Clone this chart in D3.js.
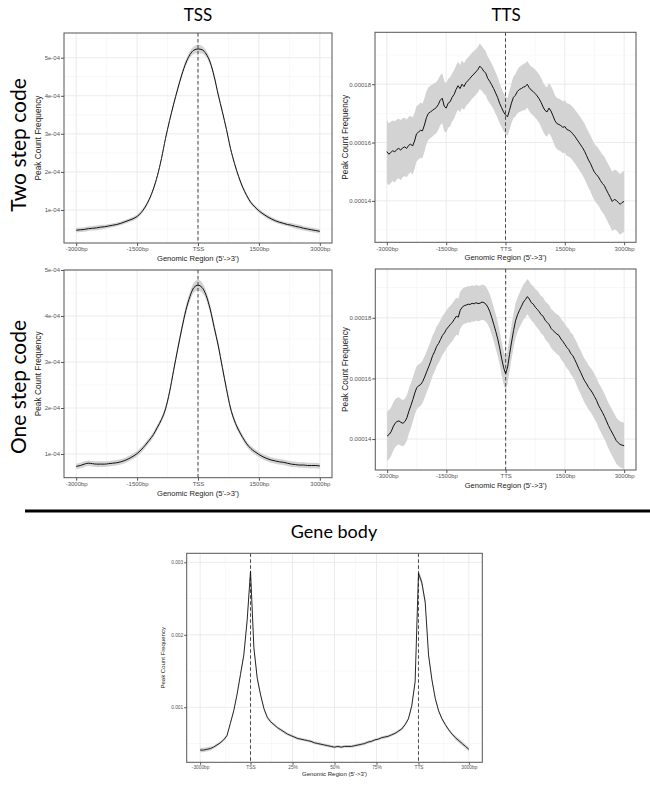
<!DOCTYPE html>
<html><head><meta charset="utf-8">
<script src="https://cdn.jsdelivr.net/npm/d3@7"></script>
<style>body{margin:0;background:#fff}svg{display:block}</style>
</head><body>
<svg id="chart" width="650" height="798"></svg>
<script>
// ---------------- DATA ----------------
const flankTicks = [-3000, -1500, 0, 1500, 3000];
const tssTickLabels = ["-3000bp", "-1500bp", "TSS", "1500bp", "3000bp"];
const ttsTickLabels = ["-3000bp", "-1500bp", "TTS", "1500bp", "3000bp"];
const tssYTicks = [1e-4, 2e-4, 3e-4, 4e-4, 5e-4];
const tssYTickLabels = ["1e-04", "2e-04", "3e-04", "4e-04", "5e-04"];
const ttsYTicks = [0.00014, 0.00016, 0.00018];
const ttsYTickLabels = ["0.00014", "0.00016", "0.00018"];
const bodyTicks = [-30, 0, 25, 50, 75, 100, 130];
const bodyTickLabels = ["-3000bp", "TSS", "25%", "50%", "75%", "TTS", "3000bp"];
const bodyYTicks = [0.001, 0.002, 0.003];
const bodyYTickLabels = ["0.001", "0.002", "0.003"];

const tssPos = d3.range(-3000, 3001, 100);   // sampling grid (bp)
const ttsPos = d3.range(-3000, 3001, 50);    // sampling grid (bp)
const bodyPos = d3.range(-30, 131, 2);       // gene-body grid (% of body, flanks scaled)

// TSS, two step code (x 1e-4)
const tssTwoStep = [
 0.47,0.48,0.49,0.51,0.52,0.53,0.55,0.56,0.58,0.60,
 0.62,0.65,0.69,0.73,0.77,0.83,0.93,1.08,1.28,1.55,
 1.90,2.35,2.88,3.35,3.78,4.18,4.55,4.86,5.08,5.20,
 5.23,5.21,5.10,4.88,4.50,4.02,3.58,3.12,2.62,2.22,
 1.88,1.60,1.38,1.20,1.08,0.98,0.90,0.83,0.77,0.72,
 0.68,0.65,0.62,0.60,0.57,0.55,0.52,0.50,0.48,0.46,
 0.44];
const tssTwoStepSE = [
 0.06,0.06,0.06,0.06,0.06,0.06,0.06,0.05,0.05,0.05,
 0.05,0.05,0.05,0.05,0.05,0.05,0.05,0.05,0.05,0.05,
 0.05,0.05,0.05,0.05,0.06,0.06,0.07,0.08,0.09,0.10,
 0.11,0.10,0.09,0.08,0.07,0.06,0.06,0.05,0.05,0.05,
 0.05,0.05,0.05,0.05,0.05,0.05,0.05,0.05,0.05,0.05,
 0.05,0.05,0.05,0.06,0.06,0.06,0.06,0.06,0.06,0.06,
 0.06];
// TSS, one step code (x 1e-4)
const tssOneStep = [
 0.73,0.75,0.78,0.80,0.79,0.78,0.78,0.78,0.79,0.80,
 0.81,0.83,0.86,0.90,0.95,1.01,1.09,1.19,1.30,1.42,
 1.58,1.75,1.98,2.35,2.82,3.28,3.72,4.12,4.42,4.62,
 4.67,4.62,4.45,4.15,3.75,3.35,2.88,2.42,2.00,1.72,
 1.52,1.36,1.22,1.12,1.05,0.99,0.94,0.90,0.87,0.85,
 0.83,0.82,0.80,0.78,0.77,0.76,0.76,0.75,0.75,0.75,
 0.74];
const tssOneStepSE = [
 0.06,0.06,0.06,0.06,0.06,0.06,0.06,0.06,0.06,0.06,
 0.06,0.06,0.06,0.06,0.06,0.06,0.06,0.06,0.06,0.06,
 0.06,0.06,0.06,0.06,0.07,0.07,0.08,0.09,0.10,0.11,
 0.12,0.11,0.10,0.09,0.08,0.07,0.07,0.06,0.06,0.06,
 0.06,0.06,0.06,0.06,0.06,0.06,0.06,0.06,0.06,0.06,
 0.06,0.06,0.06,0.06,0.06,0.06,0.06,0.06,0.06,0.06,
 0.06];
// TTS, two step code (x 1e-5)
const ttsTwoStep = [
 15.69,15.60,15.66,15.72,15.68,15.76,15.80,15.74,15.82,15.85,
 15.80,15.90,15.95,15.88,16.05,16.30,16.36,16.42,16.40,16.60,
 16.85,17.00,17.05,17.10,17.15,17.20,17.30,17.45,17.52,17.25,
 17.18,17.35,17.40,17.55,17.65,17.82,17.95,17.85,18.00,17.92,
 18.05,18.12,18.20,18.28,18.35,18.42,18.50,18.62,18.55,18.45,
 18.38,18.20,18.10,17.98,17.85,17.70,17.55,17.35,17.20,17.05,
 16.95,16.88,17.10,17.35,17.55,17.62,17.75,17.82,17.85,17.90,
 17.92,18.00,17.88,17.80,17.75,17.68,17.60,17.50,17.38,17.22,
 17.10,17.05,17.18,17.08,16.92,16.75,16.65,16.62,16.58,16.52,
 16.55,16.45,16.42,16.38,16.30,16.22,16.12,16.02,15.92,15.82,
 15.70,15.55,15.40,15.28,15.12,14.98,14.90,14.82,14.70,14.60,
 14.52,14.38,14.25,14.12,13.98,14.05,14.02,13.95,13.88,13.95,
 13.98];
const ttsTwoStepSE = [
 1.08,1.06,1.05,1.04,1.05,1.03,1.02,1.03,1.01,1.00,
 0.99,0.98,0.97,0.98,0.96,0.95,0.94,0.95,0.93,0.92,
 0.91,0.90,0.90,0.89,0.88,0.88,0.87,0.86,0.86,0.85,
 0.85,0.84,0.84,0.83,0.83,0.82,0.82,0.81,0.81,0.80,
 0.80,0.80,0.79,0.79,0.79,0.78,0.78,0.78,0.77,0.77,
 0.76,0.75,0.74,0.73,0.72,0.71,0.70,0.68,0.66,0.65,
 0.64,0.65,0.67,0.69,0.71,0.73,0.75,0.77,0.78,0.79,
 0.80,0.80,0.81,0.81,0.82,0.82,0.83,0.83,0.84,0.84,
 0.85,0.85,0.86,0.86,0.87,0.87,0.88,0.88,0.89,0.89,
 0.90,0.90,0.91,0.91,0.92,0.92,0.93,0.93,0.94,0.94,
 0.95,0.95,0.96,0.96,0.97,0.97,0.98,0.98,0.99,0.99,
 1.00,1.00,1.01,1.01,1.02,1.02,1.03,1.03,1.04,1.04,
 1.05];
// TTS, one step code (x 1e-5)
const ttsOneStep = [
 14.10,14.15,14.24,14.40,14.52,14.58,14.60,14.55,14.52,14.58,
 14.70,14.92,15.10,15.30,15.52,15.70,15.76,15.80,15.90,16.05,
 16.22,16.38,16.55,16.75,16.88,17.05,17.15,17.28,17.42,17.50,
 17.62,17.70,17.78,17.85,17.95,18.05,18.02,18.25,18.35,18.40,
 18.42,18.45,18.44,18.48,18.46,18.50,18.47,18.48,18.52,18.50,
 18.45,18.35,18.20,18.00,17.78,17.55,17.30,17.00,16.65,16.35,
 16.15,16.38,16.80,17.20,17.58,17.90,18.10,18.25,18.38,18.52,
 18.60,18.70,18.62,18.50,18.45,18.35,18.28,18.20,18.10,18.05,
 17.92,17.85,17.78,17.65,17.58,17.52,17.46,17.42,17.30,17.22,
 17.12,17.02,16.95,16.82,16.75,16.62,16.48,16.33,16.20,16.05,
 15.92,15.82,15.70,15.62,15.52,15.40,15.28,15.12,15.00,14.88,
 14.75,14.60,14.45,14.32,14.20,14.08,13.95,13.88,13.82,13.80,
 13.78];
const ttsOneStepSE = [
 0.82,0.81,0.80,0.80,0.79,0.78,0.78,0.77,0.76,0.76,
 0.75,0.74,0.74,0.73,0.72,0.72,0.71,0.70,0.70,0.69,
 0.68,0.68,0.67,0.67,0.66,0.66,0.65,0.65,0.64,0.64,
 0.63,0.63,0.62,0.62,0.62,0.61,0.61,0.61,0.60,0.60,
 0.60,0.60,0.60,0.59,0.59,0.59,0.59,0.58,0.58,0.58,
 0.58,0.57,0.57,0.57,0.56,0.56,0.56,0.55,0.55,0.55,
 0.55,0.55,0.56,0.56,0.56,0.57,0.57,0.57,0.58,0.58,
 0.58,0.58,0.59,0.59,0.60,0.60,0.61,0.61,0.62,0.62,
 0.63,0.63,0.64,0.64,0.65,0.65,0.66,0.66,0.67,0.67,
 0.68,0.68,0.69,0.69,0.70,0.70,0.71,0.71,0.72,0.72,
 0.72,0.73,0.73,0.73,0.74,0.74,0.74,0.74,0.75,0.75,
 0.75,0.75,0.75,0.76,0.76,0.76,0.76,0.76,0.76,0.76,
 0.76];
// Gene body (x 1e-3)
const bodyVal = [
 0.41,0.41,0.42,0.43,0.45,0.48,0.51,0.55,0.61,0.78,
 0.95,1.18,1.45,1.72,2.20,2.88,1.82,1.40,1.17,0.98,
 0.86,0.80,0.76,0.72,0.69,0.66,0.63,0.61,0.59,0.57,
 0.56,0.55,0.54,0.53,0.51,0.50,0.49,0.48,0.47,0.46,
 0.45,0.46,0.45,0.46,0.46,0.46,0.47,0.48,0.49,0.50,
 0.52,0.53,0.55,0.56,0.58,0.59,0.60,0.62,0.64,0.67,
 0.70,0.76,0.84,1.02,1.35,2.85,2.72,2.45,1.72,1.38,
 1.12,0.95,0.84,0.76,0.69,0.63,0.58,0.54,0.50,0.46,
 0.42];
const bodySE = [
 0.03,0.03,0.03,0.03,0.02,0.02,0.02,0.02,0.02,0.02,
 0.02,0.02,0.03,0.03,0.04,0.05,0.04,0.03,0.02,0.02,
 0.02,0.02,0.02,0.02,0.02,0.02,0.02,0.02,0.02,0.02,
 0.02,0.02,0.02,0.02,0.02,0.02,0.02,0.02,0.02,0.02,
 0.02,0.02,0.02,0.02,0.02,0.02,0.02,0.02,0.02,0.02,
 0.02,0.02,0.02,0.02,0.02,0.02,0.02,0.02,0.02,0.02,
 0.02,0.02,0.02,0.02,0.03,0.05,0.05,0.04,0.03,0.03,
 0.02,0.02,0.02,0.02,0.02,0.02,0.03,0.03,0.03,0.03,
 0.03];

// ---------------- DRAWING ----------------
const svg = d3.select("#chart");
const FONT = "'Liberation Sans', Arial, sans-serif";
const TFONT = "Lato, 'Open Sans', sans-serif";

function panel(cfg) {
  const g = svg.append("g");
  const x = d3.scaleLinear().domain(cfg.xDomain).range([cfg.left, cfg.right]);
  const y = d3.scaleLinear().domain(cfg.yDomain).range([cfg.bottom, cfg.top]);
  const rows = cfg.pos.map((p, i) => ({x: p, v: cfg.vals[i] * cfg.mult, s: cfg.se[i] * cfg.mult}));

  g.append("rect").attr("x", cfg.left).attr("y", cfg.top)
    .attr("width", cfg.right - cfg.left).attr("height", cfg.bottom - cfg.top).attr("fill", "#fff");

  // minor grid: midpoints between majors (and beyond, if in range)
  const minor = (ticks, dom) => {
    const out = [];
    const step0 = ticks[1] - ticks[0], stepN = ticks[ticks.length-1] - ticks[ticks.length-2];
    const cand = [ticks[0] - step0 / 2];
    for (let i = 0; i < ticks.length - 1; i++) cand.push((ticks[i] + ticks[i+1]) / 2);
    cand.push(ticks[ticks.length-1] + stepN / 2);
    const lo = Math.min(...dom), hi = Math.max(...dom);
    cand.forEach(c => { if (c > lo && c < hi) out.push(c); });
    return out;
  };
  const grid = g.append("g");
  grid.selectAll(".mx").data(minor(cfg.xTicks, cfg.xDomain)).join("line")
    .attr("x1", d => x(d)).attr("x2", d => x(d)).attr("y1", cfg.top).attr("y2", cfg.bottom)
    .attr("stroke", "#f0f0f0").attr("stroke-width", 0.5);
  grid.selectAll(".my").data(minor(cfg.yTicks, cfg.yDomain)).join("line")
    .attr("y1", d => y(d)).attr("y2", d => y(d)).attr("x1", cfg.left).attr("x2", cfg.right)
    .attr("stroke", "#f0f0f0").attr("stroke-width", 0.5);
  grid.selectAll(".Mx").data(cfg.xTicks).join("line")
    .attr("x1", d => x(d)).attr("x2", d => x(d)).attr("y1", cfg.top).attr("y2", cfg.bottom)
    .attr("stroke", "#ebebeb").attr("stroke-width", 1);
  grid.selectAll(".My").data(cfg.yTicks).join("line")
    .attr("y1", d => y(d)).attr("y2", d => y(d)).attr("x1", cfg.left).attr("x2", cfg.right)
    .attr("stroke", "#ebebeb").attr("stroke-width", 1);

  const curve = cfg.smooth ? d3.curveMonotoneX : d3.curveLinear;
  g.append("path").datum(rows)
    .attr("d", d3.area().x(d => x(d.x)).y0(d => y(d.v - d.s)).y1(d => y(d.v + d.s)).curve(curve))
    .attr("fill", "#d3d3d3");

  cfg.vlines.forEach(v => {
    g.append("line").attr("x1", x(v)).attr("x2", x(v)).attr("y1", cfg.top).attr("y2", cfg.bottom)
      .attr("stroke", "#333").attr("stroke-width", 0.9).attr("stroke-dasharray", "3.5,2.5");
  });

  g.append("path").datum(rows)
    .attr("d", d3.line().x(d => x(d.x)).y(d => y(d.v)).curve(curve))
    .attr("fill", "none").attr("stroke", "#111").attr("stroke-width", cfg.lw);

  g.append("rect").attr("x", cfg.left).attr("y", cfg.top)
    .attr("width", cfg.right - cfg.left).attr("height", cfg.bottom - cfg.top)
    .attr("fill", "none").attr("stroke", "#555").attr("stroke-width", 1);

  const ax = g.append("g").attr("transform", `translate(0,${cfg.bottom})`)
    .call(d3.axisBottom(x).tickValues(cfg.xTicks).tickFormat((d, i) => cfg.xLabels[i])
      .tickSize(cfg.tick).tickPadding(1));
  const ay = g.append("g").attr("transform", `translate(${cfg.left},0)`)
    .call(d3.axisLeft(y).tickValues(cfg.yTicks).tickFormat((d, i) => cfg.yLabels[i])
      .tickSize(cfg.tick).tickPadding(1));
  [ax, ay].forEach(a => {
    a.select(".domain").remove();
    a.selectAll("line").attr("stroke", "#555");
    a.selectAll("text").attr("fill", "#555").style("font-family", FONT).style("font-size", cfg.tickFont + "px");
  });

  g.append("text").attr("x", (cfg.left + cfg.right) / 2).attr("y", cfg.bottom + cfg.xTitleOff)
    .attr("text-anchor", "middle").style("font-family", FONT).style("font-size", cfg.xTitleFont + "px")
    .attr("fill", "#222").text("Genomic Region (5'->3')");
  g.append("text")
    .attr("transform", `translate(${cfg.yTitleX},${(cfg.top + cfg.bottom) / 2}) rotate(-90)`)
    .attr("text-anchor", "middle").style("font-family", FONT).style("font-size", cfg.yTitleFont + "px")
    .attr("fill", "#222").text("Peak Count Frequency");
}

const common = {smooth: false, lw: 1, tick: 3, tickFont: 6, xTitleFont: 7.6, yTitleFont: 8.3, xTitleOff: 18};

panel(Object.assign({}, common, {
  left: 64, right: 332, top: 33, bottom: 243,
  xDomain: [-3300, 3300], yDomain: [0.1333e-4, 5.649e-4],
  pos: tssPos, vals: tssTwoStep, se: tssTwoStepSE, mult: 1e-4, smooth: true,
  xTicks: flankTicks, xLabels: tssTickLabels, yTicks: tssYTicks, yLabels: tssYTickLabels,
  vlines: [0], yTitleX: 41
}));
panel(Object.assign({}, common, {
  left: 375, right: 636, top: 32.3, bottom: 242.3,
  xDomain: [-3300, 3300], yDomain: [12.58e-5, 19.78e-5],
  pos: ttsPos, vals: ttsTwoStep, se: ttsTwoStepSE, mult: 1e-5,
  xTicks: flankTicks, xLabels: ttsTickLabels, yTicks: ttsYTicks, yLabels: ttsYTickLabels,
  vlines: [0], yTitleX: 347.5
}));
panel(Object.assign({}, common, {
  left: 64, right: 332, top: 270, bottom: 477.7,
  xDomain: [-3300, 3300], yDomain: [0.485e-4, 5.0e-4],
  pos: tssPos, vals: tssOneStep, se: tssOneStepSE, mult: 1e-4, smooth: true,
  xTicks: flankTicks, xLabels: tssTickLabels, yTicks: tssYTicks, yLabels: tssYTickLabels,
  vlines: [0], yTitleX: 41
}));
panel(Object.assign({}, common, {
  left: 375.3, right: 636, top: 269, bottom: 470,
  xDomain: [-3300, 3300], yDomain: [12.98e-5, 19.61e-5],
  pos: ttsPos, vals: ttsOneStep, se: ttsOneStepSE, mult: 1e-5,
  xTicks: flankTicks, xLabels: ttsTickLabels, yTicks: ttsYTicks, yLabels: ttsYTickLabels,
  vlines: [0], yTitleX: 347.5
}));
panel(Object.assign({}, common, {
  left: 186.7, right: 482.3, top: 553.3, bottom: 762.3,
  xDomain: [-38, 138], yDomain: [0.241e-3, 3.124e-3],
  pos: bodyPos, vals: bodyVal, se: bodySE, mult: 1e-3,
  xTicks: bodyTicks, xLabels: bodyTickLabels, yTicks: bodyYTicks, yLabels: bodyYTickLabels,
  vlines: [0, 100], yTitleX: 165, tick: 2.5, tickFont: 4.8, xTitleFont: 6, yTitleFont: 6, xTitleOff: 13.5, lw: 0.9
}));

// Titles & labels
const titles = [
  {t: "TSS", x: 198, y: 21, s: 17},
  {t: "TTS", x: 506, y: 21, s: 17},
  {t: "Gene body", x: 334, y: 538, s: 18}
];
titles.forEach(d => svg.append("text").attr("x", d.x).attr("y", d.y).attr("text-anchor", "middle")
  .style("font-family", TFONT).style("font-size", d.s + "px").attr("fill", "#000").text(d.t));
const rowLabels = [
  {t: "Two step code", x: 26, y: 145},
  {t: "One step code", x: 26, y: 387}
];
rowLabels.forEach(d => svg.append("text")
  .attr("transform", `translate(${d.x},${d.y}) rotate(-90)`).attr("text-anchor", "middle")
  .style("font-family", TFONT).style("font-size", "21px").attr("fill", "#000").text(d.t));

svg.append("line").attr("x1", 25).attr("x2", 650).attr("y1", 511).attr("y2", 511)
  .attr("stroke", "#000").attr("stroke-width", 3);
</script>
</body></html>
